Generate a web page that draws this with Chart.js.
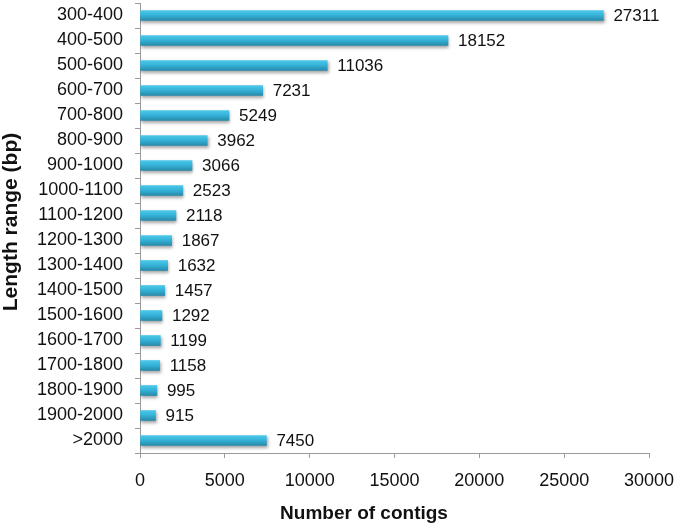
<!DOCTYPE html>
<html>
<head>
<meta charset="utf-8">
<script src="https://cdn.jsdelivr.net/npm/chart.js@4"></script>
<style>
  html, body { margin: 0; padding: 0; background: #fff; }
  #wrap { width: 675px; height: 529px; position: relative; }
</style>
</head>
<body>
<div id="wrap"><canvas id="chart"></canvas></div>
<script>
// ── Data ──────────────────────────────────────────────────────────
const ranges = ['300-400', '400-500', '500-600', '600-700', '700-800', '800-900',
  '900-1000', '1000-1100', '1100-1200', '1200-1300', '1300-1400', '1400-1500',
  '1500-1600', '1600-1700', '1700-1800', '1800-1900', '1900-2000', '>2000'];
const contigs = [27311, 18152, 11036, 7231, 5249, 3962, 3066, 2523, 2118, 1867,
  1632, 1457, 1292, 1199, 1158, 995, 915, 7450];
const xTicks = [0, 5000, 10000, 15000, 20000, 25000, 30000];
const xTitle = 'Number of contigs';
const yTitle = 'Length range (bp)';

const FONT = "'Liberation Sans', Arial, sans-serif";
const AXIS = '#9a9a9a';

// vertical gradient per bar, light cyan on top, darker teal below
function barFill(ctx) {
  if (ctx.type !== 'data') return '#33afd4';
  const sc = ctx.chart.scales.y;
  const y = sc ? sc.getPixelForValue(ctx.dataIndex) : NaN;
  if (!isFinite(y)) return '#33afd4';
  const g = ctx.chart.ctx.createLinearGradient(0, y - 5, 0, y + 5);
  g.addColorStop(0, '#4cc8e8');
  g.addColorStop(0.45, '#35b3d9');
  g.addColorStop(1, '#278bab');
  return g;
}

// soft drop shadow under the bars, value labels, axis titles
const barDecor = {
  id: 'barDecor',
  beforeDatasetsDraw(chart) {
    const c = chart.ctx;
    c.save();
    c.shadowColor = 'rgba(0,0,0,0.35)';
    c.shadowBlur = 3;
    c.shadowOffsetX = 1;
    c.shadowOffsetY = 2;
  },
  afterDatasetsDraw(chart) {
    const c = chart.ctx;
    c.restore();
    c.save();
    c.font = '17px ' + FONT;
    c.fillStyle = '#111';
    c.textBaseline = 'middle';
    c.textAlign = 'left';
    chart.getDatasetMeta(0).data.forEach((el, i) => {
      c.fillText(String(contigs[i]), el.x + 10, el.y + 1);
    });
    c.restore();
  },
  afterDraw(chart) {
    const c = chart.ctx;
    c.save();
    c.fillStyle = '#111';
    c.textAlign = 'center';
    c.textBaseline = 'middle';
    c.font = 'bold 19px ' + FONT;
    c.fillText(xTitle, 364, 514);
    c.translate(11, 222);
    c.rotate(-Math.PI / 2);
    c.font = 'bold 21px ' + FONT;
    c.fillText(yTitle, 0, 0);
    c.restore();
  }
};

new Chart(document.getElementById('chart'), {
  type: 'bar',
  data: {
    labels: ranges,
    datasets: [{
      data: contigs,
      backgroundColor: barFill,
      borderWidth: 0,
      barThickness: 10,
    }]
  },
  options: {
    indexAxis: 'y',
    responsive: true,
    maintainAspectRatio: false,
    animation: false,
    layout: { padding: { top: 3, right: 26, left: 0, bottom: 0 } },
    plugins: { legend: { display: false }, tooltip: { enabled: false } },
    scales: {
      x: {
        min: 0, max: 30000,
        afterBuildTicks: s => { s.ticks = xTicks.map(v => ({ value: v })); },
        afterFit: s => { s.height = 76; s.paddingLeft = 0; s.paddingRight = 0; },
        ticks: { color: '#111', padding: 12, font: { family: FONT, size: 18 },
                 callback: v => String(v) },
        grid: { drawOnChartArea: false, color: AXIS, tickLength: 5 },
        border: { color: AXIS, width: 1 },
      },
      y: {
        afterFit: s => { s.width = 140; s.paddingTop = 0; s.paddingBottom = 0; },
        ticks: { color: '#111', padding: 12, autoSkip: false, font: { family: FONT, size: 18 } },
        grid: { drawOnChartArea: false, color: AXIS, tickLength: 5, offset: true },
        border: { color: AXIS, width: 1 },
      }
    }
  },
  plugins: [barDecor]
});
</script>
</body>
</html>
